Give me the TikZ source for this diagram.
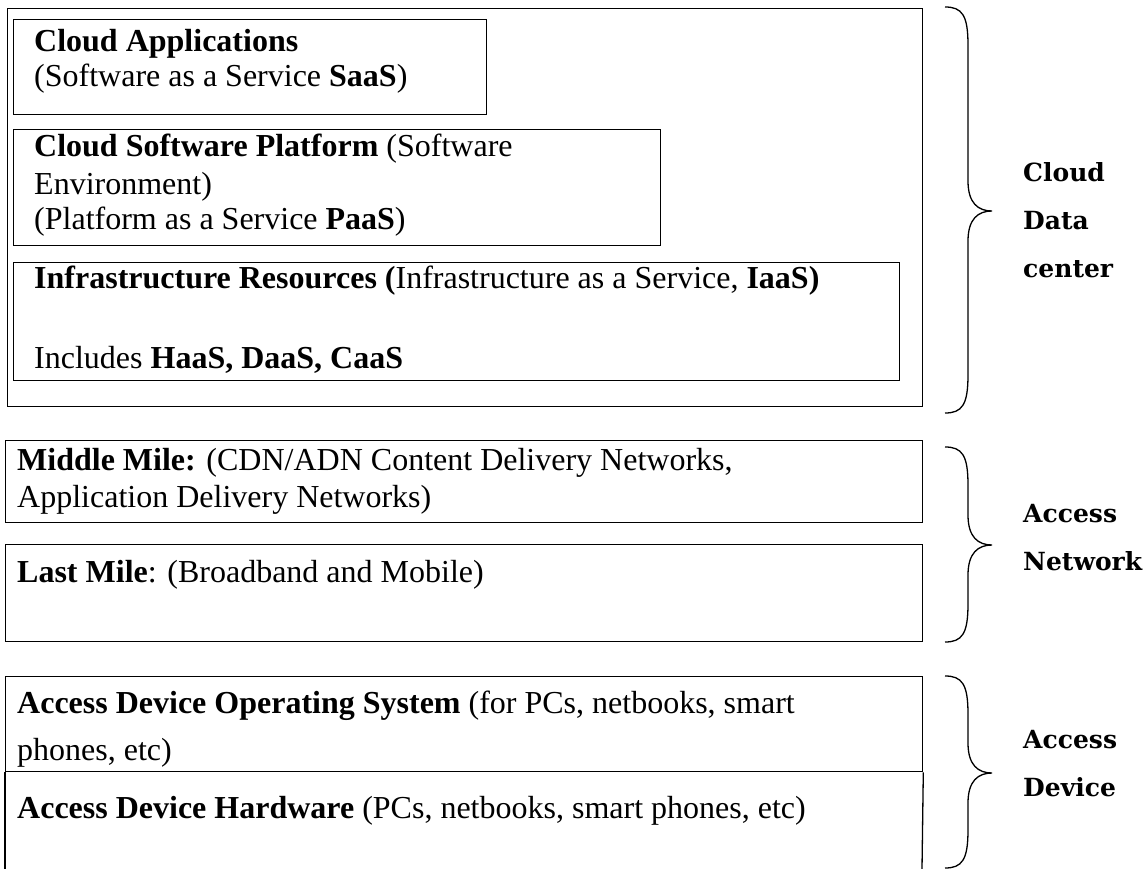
\documentclass[tikz,border=0pt]{standalone}
\usepackage{fontspec}
\setmainfont{Liberation Serif}
\newfontfamily\labelfont{DejaVu Serif}
\newcommand\curlybrace[3]{%
  \draw[bracepath] (945,#1) .. controls (962,#1) and (968,#1+8) .. (968,#1+38)
    -- (968,#2-30) .. controls (968,#2-8) and (978,#2) .. (992,#2)
    .. controls (978,#2) and (968,#2+8) .. (968,#2+30)
    -- (968,#3-38) .. controls (968,#3-8) and (962,#3) .. (945,#3);}
\begin{document}
\begin{tikzpicture}[x=1pt,y=-1pt,
  box/.style={draw, line width=1.3pt, inner sep=0pt, anchor=north west},
  txt/.style={anchor=base west, inner sep=0pt, font=\fontsize{32}{36}\selectfont},
  lbl/.style={anchor=base west, inner sep=0pt, font=\labelfont\bfseries\fontsize{25}{29}\selectfont},
  bracepath/.style={line width=1.3pt}]
\useasboundingbox (0,0) rectangle (1146,869);
% boxes
\node[box, minimum width=915pt, minimum height=398pt] (cloud) at (7,8) {};
\node[box, minimum width=473pt, minimum height=95pt] (apps) at (13,19) {};
\node[box, minimum width=647pt, minimum height=116pt] (plat) at (13,129) {};
\node[box, minimum width=886pt, minimum height=118pt] (infra) at (13,262) {};
\node[box, minimum width=917pt, minimum height=82pt] (middle) at (5,440) {};
\node[box, minimum width=917pt, minimum height=97pt] (last) at (5,544) {};
\node[box, minimum width=917pt, minimum height=95pt] (devos) at (5,676) {};
\coordinate (hwbl) at (5,869);
\coordinate (hwbr) at (922,869);
\draw[line width=1.3pt] (devos.south west) -- (hwbl);
\draw[line width=1.3pt] (devos.south east) -- (hwbr);
% texts
\node[txt] (t1) at (34,52) {\textbf{Cloud Applications}};
\node[txt] (t2) at (34,87) {(Software as a Service \textbf{SaaS})};
\node[txt] (t3) at (34,157) {\textbf{Cloud Software Platform} (Software};
\node[txt] (t4) at (34,195) {Environment)};
\node[txt] (t5) at (34,230) {(Platform as a Service \textbf{PaaS})};
\node[txt] (t6) at (34,288) {\textbf{Infrastructure Resources (}Infrastructure as a Service, \textbf{IaaS)}};
\node[txt] (t7) at (34,368) {Includes \textbf{HaaS, DaaS, CaaS}};
\node[txt] (t8) at (17,470) {\textbf{Middle Mile:} (CDN/ADN Content Delivery Networks,};
\node[txt] (t9) at (17,507) {Application Delivery Networks)};
\node[txt] (t10) at (17,582) {\textbf{Last Mile}: (Broadband and Mobile)};
\node[txt] (t11) at (17,713) {\textbf{Access Device Operating System} (for PCs, netbooks, smart};
\node[txt] (t12) at (17,760) {phones, etc)};
\node[txt] (t13) at (17,818) {\textbf{Access Device Hardware} (PCs, netbooks, smart phones, etc)};
% braces
\curlybrace{7}{211}{413}
\curlybrace{447}{545}{642}
\curlybrace{676}{773}{868}
% labels
\node[lbl] (l1) at (1023,182) {Cloud};
\node[lbl] (l2) at (1023,230) {Data};
\node[lbl] (l3) at (1023,277) {center};
\node[lbl] (l4) at (1023,522) {Access};
\node[lbl] (l5) at (1023,570) {Network};
\node[lbl] (l6) at (1023,748) {Access};
\node[lbl] (l7) at (1023,796) {Device};
\end{tikzpicture}
\end{document}
